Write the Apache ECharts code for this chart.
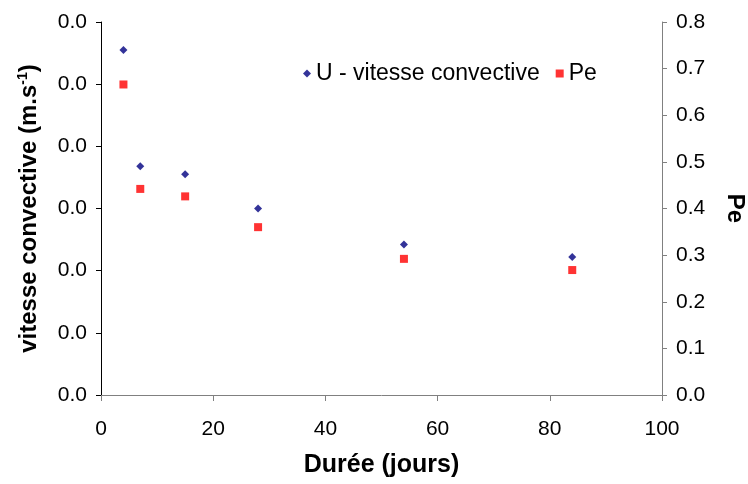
<!DOCTYPE html>
<html>
<head>
<meta charset="utf-8">
<script src="https://cdn.jsdelivr.net/npm/echarts@6/dist/echarts.min.js"></script>
<style>
  html, body { margin: 0; padding: 0; background: #fff; }
  #main { width: 748px; height: 484px; }
</style>
</head>
<body>
<div id="main"></div>
<script>
// durée en jours
const days = [4, 7, 15, 28, 54, 84];
// vitesse convective (axe gauche)
const vitesse = [0.00555, 0.00368, 0.00355, 0.00300, 0.00242, 0.00222];
// nombre de Peclet (axe droit)
const peclet = [0.666, 0.442, 0.426, 0.360, 0.292, 0.268];

const xTicks = [0, 20, 40, 60, 80, 100];

const fontFam = '"Liberation Sans", Arial, sans-serif';

const pair = (xs, ys) => xs.map((x, i) => [x, ys[i]]);

var myChart = echarts.init(document.getElementById('main'));
myChart.setOption({
    animation: false,
    backgroundColor: '#ffffff',
    textStyle: { fontFamily: fontFam },
    grid: { left: 101, right: 86, top: 22, bottom: 89, containLabel: false, outerBoundsMode: 'none' },
    legend: {
        left: 298,
        top: 57,
        itemGap: 16,
        itemWidth: 8,
        itemHeight: 8,
        textStyle: { fontSize: 23, color: '#000', fontFamily: fontFam },
        data: [
            { name: 'U - vitesse convective', icon: 'diamond', itemStyle: { color: '#000080' } },
            { name: 'Pe', icon: 'rect', itemStyle: { color: '#ff0000' } }
        ]
    },
    xAxis: {
        type: 'value',
        min: xTicks[0],
        max: xTicks[xTicks.length - 1],
        interval: 20,
        name: 'Durée (jours)',
        nameLocation: 'middle',
        nameGap: 58,
        nameTextStyle: { fontSize: 25, fontWeight: 'bold', color: '#000' },
        axisLine: { lineStyle: { color: '#808080', width: 1 } },
        axisTick: { show: true, length: 6, lineStyle: { color: '#808080' } },
        axisLabel: { fontSize: 21, color: '#000', margin: 24 },
        splitLine: { show: false }
    },
    yAxis: [
        {
            type: 'value',
            position: 'left',
            min: 0,
            max: 0.006,
            interval: 0.001,
            name: 'vitesse convective (m.s{sup|-1})',
            nameLocation: 'middle',
            nameRotate: 90,
            nameGap: 59,
            nameTextStyle: {
                fontSize: 24, fontWeight: 'bold', color: '#000',
                rich: { sup: { fontSize: 14, fontWeight: 'bold', color: '#000', verticalAlign: 'top', padding: [0, 0, 12, 0] } }
            },
            axisLine: { show: true, lineStyle: { color: '#000', width: 1 } },
            axisTick: { show: true, length: 5, lineStyle: { color: '#000' } },
            axisLabel: { fontSize: 21, color: '#000', margin: 14, formatter: v => v.toFixed(1) },
            splitLine: { show: false }
        },
        {
            type: 'value',
            position: 'right',
            min: 0,
            max: 0.8,
            interval: 0.1,
            name: 'Pe',
            nameLocation: 'middle',
            nameRotate: -90,
            nameGap: 61,
            nameTextStyle: { fontSize: 24, fontWeight: 'bold', color: '#000' },
            axisLine: { show: true, lineStyle: { color: '#808080', width: 1 } },
            axisTick: { show: true, length: 5, lineStyle: { color: '#808080' } },
            axisLabel: { fontSize: 21, color: '#000', margin: 14, formatter: v => v.toFixed(1) },
            splitLine: { show: false }
        }
    ],
    series: [
        {
            name: 'U - vitesse convective',
            type: 'scatter',
            yAxisIndex: 0,
            symbol: 'diamond',
            symbolSize: 8,
            itemStyle: { color: '#000080' },
            data: pair(days, vitesse)
        },
        {
            name: 'Pe',
            type: 'scatter',
            yAxisIndex: 1,
            symbol: 'rect',
            symbolSize: 8,
            itemStyle: { color: '#ff0000' },
            data: pair(days, peclet)
        }
    ]
});
</script>
</body>
</html>
